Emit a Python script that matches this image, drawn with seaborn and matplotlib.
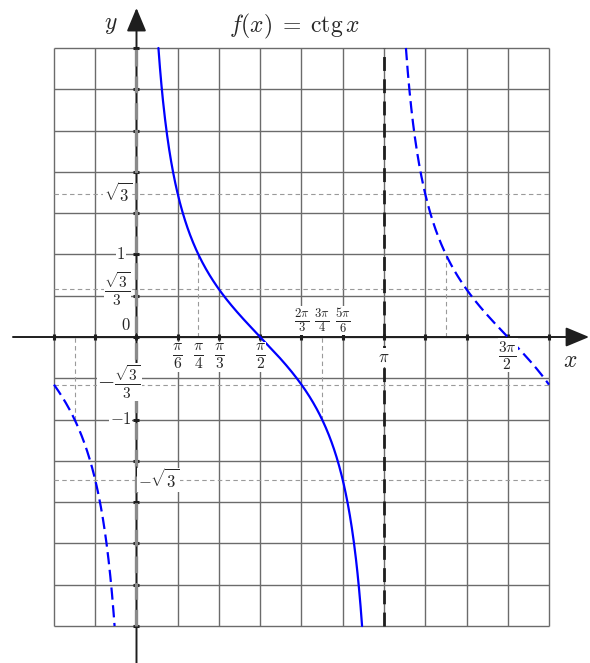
import numpy as np
import pandas as pd
import seaborn as sns
import matplotlib.pyplot as plt

sns.set_theme(style="white")
plt.rcParams['mathtext.fontset'] = 'cm'
plt.rcParams['font.family'] = ['DejaVu Serif']

PI = np.pi
S3 = np.sqrt(3)

# grid window
grid_x = [-PI / 3, 5 * PI / 3]
grid_y = [-3.5, 3.5]
step_x = PI / 6
step_y = 0.5

# branches of ctg x inside the window
branch_lo = [-PI / 3, np.arctan(1 / 3.5), PI + np.arctan(1 / 3.5)]
branch_hi = [-np.arctan(1 / 3.5), PI - np.arctan(1 / 3.5), 5 * PI / 3]
branch_dashed = [True, False, True]

# helper lines
h_guides = [S3, S3 / 3, -S3 / 3, -S3]
v_guide_x = [PI / 4, 3 * PI / 4, -PI / 4, 5 * PI / 4]
v_guide_y = [1, -1, -1, 1]

# labels
x_lab_pos = [PI / 6, PI / 4, PI / 3, PI / 2, PI, 3 * PI / 2]
x_lab_txt = [r'$\frac{\pi}{6}$', r'$\frac{\pi}{4}$', r'$\frac{\pi}{3}$',
             r'$\frac{\pi}{2}$', r'$\pi$', r'$\frac{3\pi}{2}$']
x_lab_size = [16, 16, 16, 16, 12, 16]
x_lab_y = [-0.24, -0.24, -0.24, -0.24, -0.25, -0.22]
x_up_pos = [2 * PI / 3, 3 * PI / 4, 5 * PI / 6]
x_up_txt = [r'$\frac{2\pi}{3}$', r'$\frac{3\pi}{4}$', r'$\frac{5\pi}{6}$']
y_lab_pos = [S3, 1, S3 / 3, 0.14, -S3 / 3 + 0.03, -1, -S3]
y_lab_txt = [r'$\sqrt{3}$', r'$1$', r'$\frac{\sqrt{3}}{3}$', r'$0$',
             r'$-\frac{\sqrt{3}}{3}$', r'$-1$', r'$-\sqrt{3}$']
y_lab_size = [12, 12, 16, 12, 16, 12, 12]
y_lab_x = [-0.24, -0.2, -0.24, -0.14, -0.22, -0.2, 0.28]

fig = plt.figure(figsize=(5.9, 6.63), dpi=100)
ax = fig.add_axes([0, 0, 1, 1])
ax.set_xlim(-1.7326, 5.7564)
ax.set_ylim(-3.948, 4.0813)
ax.axis('off')

grid_c = '#6b6b6b'
xs = np.arange(grid_x[0], grid_x[1] + 1e-9, step_x)
ys = np.arange(grid_y[0], grid_y[1] + 1e-9, step_y)
ax.vlines(xs, grid_y[0], grid_y[1], color=grid_c, lw=1.0, zorder=1)
ax.hlines(ys, grid_x[0], grid_x[1], color=grid_c, lw=1.0, zorder=1)

# dashed guides
for v in h_guides:
    ax.hlines(v, grid_x[0], grid_x[1], color='#9a9a9a', lw=0.8,
              linestyles=(0, (4, 3)), zorder=2)
for gx, gy in zip(v_guide_x, v_guide_y):
    ax.vlines(gx, min(0, gy), max(0, gy), color='#9a9a9a', lw=0.8,
              linestyles=(0, (4, 3)), zorder=2)

# axes with arrows
ax.annotate('', xy=(5.745, 0), xytext=(-1.568, 0),
            arrowprops=dict(arrowstyle='-|>,head_length=1.2,head_width=0.5',
                            color='#1e1e1e', lw=1.4, shrinkA=0, shrinkB=0),
            zorder=3)
ax.annotate('', xy=(0, 3.985), xytext=(0, -3.95),
            arrowprops=dict(arrowstyle='-|>,head_length=1.2,head_width=0.5',
                            color='#1e1e1e', lw=1.4, shrinkA=0, shrinkB=0),
            zorder=3)
ax.plot(xs, np.zeros_like(xs), ls='none', marker='|', ms=4, mew=2.2, color='#1e1e1e', zorder=3)
ax.plot(np.zeros_like(ys), ys, ls='none', marker='_', ms=4, mew=2.2, color='#1e1e1e', zorder=3)

# asymptotes
ax.vlines(0, grid_y[0], grid_y[1], color='#8a8a8a', lw=2.4,
          linestyles=(0, (5, 3)), zorder=4)
ax.vlines(PI, grid_y[0], grid_y[1], color='#1e1e1e', lw=2.0,
          linestyles=(0, (5, 3)), zorder=4)

# the curve
for lo, hi, dashed in zip(branch_lo, branch_hi, branch_dashed):
    t = np.linspace(lo, hi, 400)
    df = pd.DataFrame({'x': t, 'y': np.cos(t) / np.sin(t)})
    sns.lineplot(data=df, x='x', y='y', ax=ax, sort=False, estimator=None,
                 color='blue', lw=1.6, zorder=5,
                 linestyle=(0, (5.5, 2.5)) if dashed else '-')

box = dict(facecolor='white', edgecolor='none', pad=0.5)
for px, t, py, fs in zip(x_lab_pos, x_lab_txt, x_lab_y, x_lab_size):
    ax.text(px, py, t, ha='center', va='center', fontsize=fs, bbox=box, zorder=6)
for px, t in zip(x_up_pos, x_up_txt):
    ax.text(px, 0.2, t, ha='center', va='center', fontsize=13, bbox=box, zorder=6)
for py, t, px, fs in zip(y_lab_pos, y_lab_txt, y_lab_x, y_lab_size):
    ax.text(px, py, t, ha='center', va='center', fontsize=fs, bbox=box, zorder=6)

ax.text(2.0, 3.76, r'$f(x)\;=\;\mathrm{ctg}\,x$', ha='center', va='center', fontsize=17)
ax.text(-0.32, 3.78, r'$y$', ha='center', va='center', fontsize=17)
ax.text(5.5, -0.28, r'$x$', ha='center', va='center', fontsize=17)

fig.savefig('out.png', dpi=100)
